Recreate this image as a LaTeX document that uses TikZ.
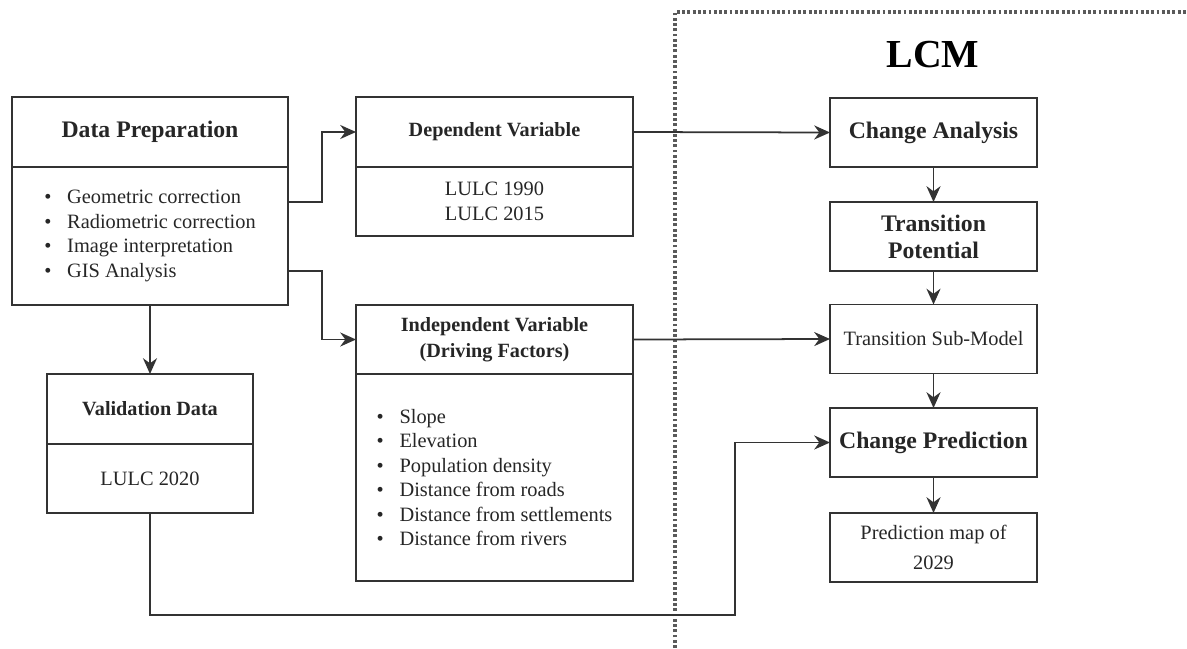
\documentclass[tikz,border=0pt]{standalone}
\usepackage{fontspec}
\setmainfont{Liberation Serif}
\usepackage{xcolor}
\usepackage{tikz}
\usetikzlibrary{positioning,arrows.meta,calc}
\definecolor{LineDark}{HTML}{333333}
\definecolor{TextDark}{HTML}{262626}
\definecolor{FrameGray}{HTML}{5A5A5A}
\newcommand{\itm}{\textbullet\hspace{9pt}}

\begin{document}
\begin{tikzpicture}[
    every node/.style={font=\fontsize{11.6}{13.9}\selectfont, text=TextDark},
    box/.style={draw=LineDark, line width=1pt, outer sep=0pt, inner sep=0pt, align=center},
    head/.style={box, font=\fontsize{11.5}{14.7}\selectfont\bfseries},
    bighead/.style={box, font=\fontsize{13.5}{15.5}\selectfont\bfseries},
    arr/.style={draw=LineDark, line width=1pt, -{Stealth[length=9pt,width=8pt]}}
  ]
  \useasboundingbox (0,0) rectangle (23.74,-12.96);

  % LCM frame
  \draw[FrameGray, line width=2.2pt, dash pattern=on 1.6pt off 1.4pt]
  (13.5,-12.96) -- (13.5,-0.24) -- (23.74,-0.24);
  \node[font=\fontsize{22.6}{26}\selectfont\bfseries, text=black] (lcm) at (18.66,-1.1) {LCM};

  % left column
  \node[bighead, minimum width=5.52cm, minimum height=1.4cm] (prep) at (3.0,-2.64) {Data Preparation};
  \node[box, align=left, minimum width=5.52cm, minimum height=2.76cm, below=0pt of prep] (prepb)
  {\itm Geometric correction\\ \itm Radiometric correction\\ \itm Image interpretation\\ \itm GIS Analysis};

  \node[head, minimum width=4.12cm, minimum height=1.4cm] (val) at (3.0,-8.18) {Validation Data};
  \node[box, minimum width=4.12cm, minimum height=1.38cm, below=0pt of val] (valb) {LULC 2020};

  % middle column
  \node[head, minimum width=5.54cm, minimum height=1.4cm] (dep) at (9.89,-2.64) {Dependent Variable};
  \node[box, minimum width=5.54cm, minimum height=1.38cm, below=0pt of dep] (depb) {LULC 1990\\LULC 2015};

  \node[head, minimum width=5.54cm, minimum height=1.38cm] (indep) at (9.89,-6.79)
  {Independent Variable\\(Driving Factors)};
  \node[box, align=left, minimum width=5.54cm, minimum height=4.14cm, below=0pt of indep] (indepb)
  {\itm Slope\\ \itm Elevation\\ \itm Population density\\ \itm Distance from roads\\
    \itm Distance from settlements\\ \itm Distance from rivers};

  % right column
  \node[bighead, minimum width=4.14cm, minimum height=1.38cm] (chg) at (18.67,-2.65) {Change Analysis};
  \node[bighead, minimum width=4.14cm, minimum height=1.38cm] (pot) at (18.67,-4.73) {Transition\\Potential};
  \node[box, minimum width=4.14cm, minimum height=1.38cm] (sub) at (18.67,-6.78) {Transition Sub-Model};
  \node[bighead, minimum width=4.14cm, minimum height=1.38cm] (pred) at (18.67,-8.85) {Change Prediction};
  \node[box, minimum width=4.14cm, minimum height=1.38cm] (map) at (18.67,-10.95) {Prediction map of\\[3pt]2029};

  % connectors
  \draw[arr] ([yshift=0.68cm]prepb.east) -- ++(0.68,0) |- (dep.west);
  \draw[arr] ([yshift=-0.7cm]prepb.east) -- ++(0.68,0) |- (indep.west);
  \draw[arr] (prepb.south) -- (val.north);
  \draw[arr] (dep.east) -- (chg.west);
  \draw[arr] (indep.east) -- (sub.west);
  \foreach \a/\b in {chg/pot,pot/sub,sub/pred,pred/map}
  \draw[arr] (\a.south) -- (\b.north);
  \coordinate (bend) at (14.7,-12.3);
  \draw[arr] (valb.south) |- (bend) |- (pred.west);
\end{tikzpicture}
\end{document}
